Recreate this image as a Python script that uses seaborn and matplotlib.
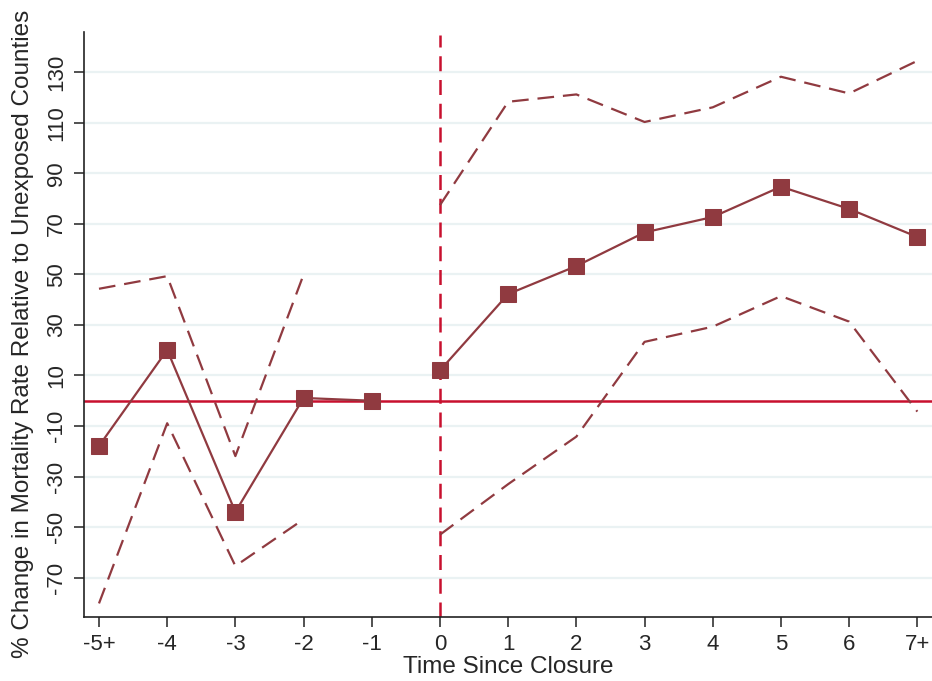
import pandas as pd
import numpy as np
import matplotlib
matplotlib.use("Agg")
import matplotlib.pyplot as plt
import seaborn as sns

# event-study estimates
periods = ["-5+", "-4", "-3", "-2", "-1", "0", "1", "2", "3", "4", "5", "6", "7+"]
estimate = [-17.9, 20.1, -44.0, 1.1, 0.0, 12.0, 42.2, 53.3, 66.6, 72.7, 84.7, 75.9, 64.8]
ci_upper = [44.3, 49.3, -21.9, 49.9, np.nan, 77.4, 118.3, 121.2, 110.3, 116.1, 128.2, 121.6, 134.5]
ci_lower = [-80.2, -8.9, -65.4, -46.9, np.nan, -53.0, -33.0, -14.2, 23.3, 29.3, 41.4, 31.3, -4.3]
segment = ["pre"] * 5 + ["post"] * 8
yticks = [-70, -50, -30, -10, 10, 30, 50, 70, 90, 110, 130]

df = pd.DataFrame({"pos": range(len(periods)), "period": periods, "est": estimate,
                   "hi": ci_upper, "lo": ci_lower, "seg": segment})

sns.set_style("white")
plt.rcParams["font.family"] = ["Liberation Sans", "DejaVu Sans"]

line_col = "#903A40"
ref_col = "#C8102E"

fig = plt.figure(figsize=(9.32, 6.81), dpi=100)
ax = fig.add_axes([0.0896, 0.0935, 0.9104, 0.8595])

for y in yticks:
    ax.axhline(y, color="#EAF2F3", lw=1.6, zorder=0)
ax.axhline(0, color=ref_col, lw=1.8, zorder=1)
ax.axvline(5, color=ref_col, lw=1.8, ls=(0, (6, 3.5)), zorder=1, ymax=0.995)

# confidence bands (dashed), gap at -1
for col in ["hi", "lo"]:
    d = df.dropna(subset=[col])
    sns.lineplot(data=d, x="pos", y=col, units="seg", estimator=None, ax=ax,
                 color=line_col, lw=1.6, dashes=False, zorder=2)
for ln in ax.get_lines():
    if ln.get_color() == line_col:
        ln.set_linestyle((0, (7.5, 4)))

sns.lineplot(data=df, x="pos", y="est", units="seg", estimator=None, ax=ax,
             color=line_col, lw=1.6, marker="s", markersize=11,
             markeredgecolor=line_col, zorder=3)

ax.set_xlim(-0.227, 12.215)
ax.set_ylim(-85.7, 145.9)
ax.set_xticks(range(len(periods)))
ax.set_xticklabels(periods)
ax.set_yticks(yticks)
ax.set_yticklabels([str(v) for v in yticks], rotation=90, va="center")
ax.tick_params(axis="both", direction="out", length=7, width=1.2, color="#333333",
               labelsize=16, pad=5, bottom=True, left=True)
for side in ["top", "right"]:
    ax.spines[side].set_visible(False)
for side in ["left", "bottom"]:
    ax.spines[side].set_color("#222222")
    ax.spines[side].set_linewidth(1.2)

ax.set_xlabel("Time Since Closure", fontsize=17.5, labelpad=1)
ax.set_ylabel("% Change in Mortality Rate Relative to Unexposed Counties", fontsize=17.5)
ax.yaxis.set_label_coords(-0.058, 0.484)
ax.grid(False)

fig.savefig("out.png", dpi=100)
